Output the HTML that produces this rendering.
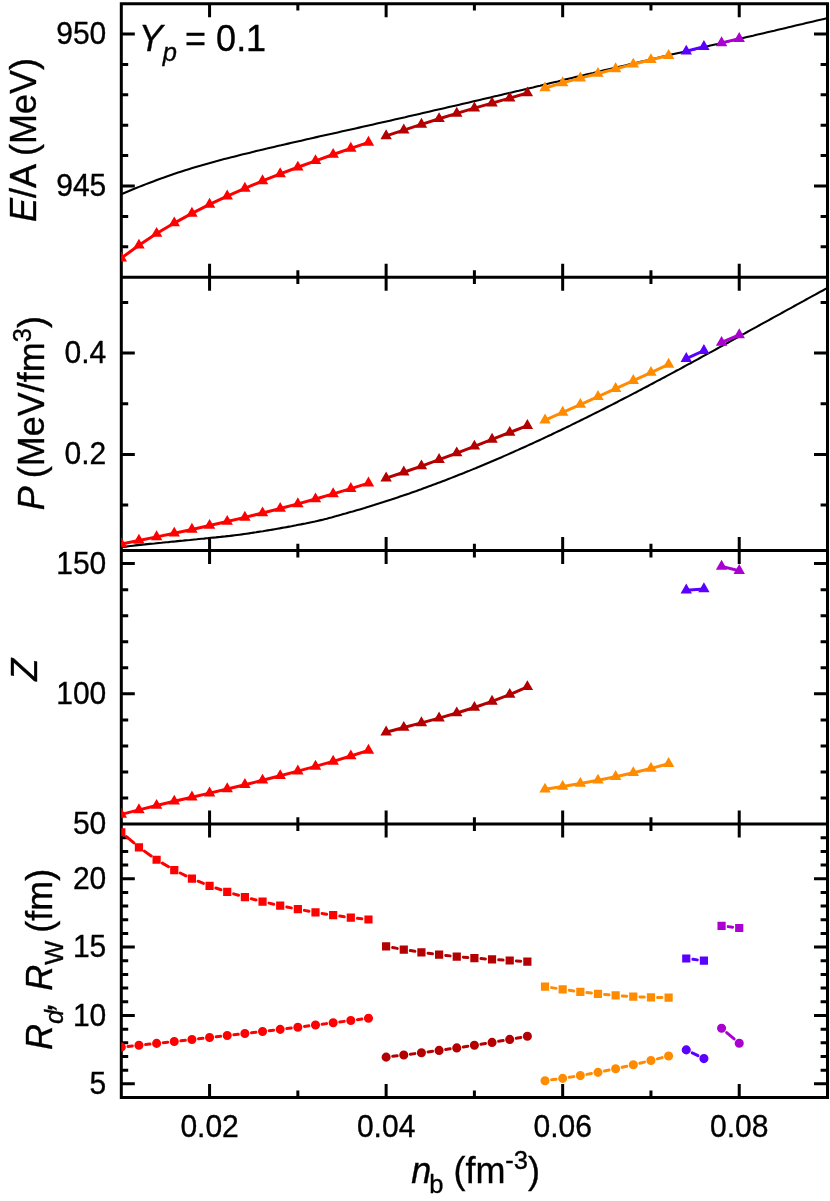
<!DOCTYPE html>
<html><head><meta charset="utf-8"><title>chart</title><style>html,body{margin:0;padding:0;background:#fff;overflow:hidden}</style></head><body>
<svg width="830" height="1201" viewBox="0 0 830 1201" style="display:block;will-change:transform;font-family:'Liberation Sans',sans-serif">
<rect width="830" height="1201" fill="#fff"/>
<defs><clipPath id="cp"><rect x="121.3" y="3.7" width="706.2" height="1093.8"/></clipPath>
<clipPath id="c0"><rect x="121.3" y="3.70" width="706.2" height="273.45"/></clipPath>
<clipPath id="c1"><rect x="121.3" y="277.15" width="706.2" height="273.45"/></clipPath>
<clipPath id="c2"><rect x="121.3" y="550.60" width="706.2" height="273.45"/></clipPath>
<clipPath id="c3"><rect x="121.3" y="824.05" width="706.2" height="273.45"/></clipPath>
</defs>
<path d="M209.57,3.70v13.5M209.57,277.15v-13.5M297.85,3.70v6.9M297.85,277.15v-6.9M386.13,3.70v13.5M386.13,277.15v-13.5M474.40,3.70v6.9M474.40,277.15v-6.9M562.67,3.70v13.5M562.67,277.15v-13.5M650.95,3.70v6.9M650.95,277.15v-6.9M739.23,3.70v13.5M739.23,277.15v-13.5M209.57,277.15v13.5M209.57,550.60v-13.5M297.85,277.15v6.9M297.85,550.60v-6.9M386.13,277.15v13.5M386.13,550.60v-13.5M474.40,277.15v6.9M474.40,550.60v-6.9M562.67,277.15v13.5M562.67,550.60v-13.5M650.95,277.15v6.9M650.95,550.60v-6.9M739.23,277.15v13.5M739.23,550.60v-13.5M209.57,550.60v13.5M209.57,824.05v-13.5M297.85,550.60v6.9M297.85,824.05v-6.9M386.13,550.60v13.5M386.13,824.05v-13.5M474.40,550.60v6.9M474.40,824.05v-6.9M562.67,550.60v13.5M562.67,824.05v-13.5M650.95,550.60v6.9M650.95,824.05v-6.9M739.23,550.60v13.5M739.23,824.05v-13.5M209.57,824.05v13.5M209.57,1097.50v-13.5M297.85,824.05v6.9M297.85,1097.50v-6.9M386.13,824.05v13.5M386.13,1097.50v-13.5M474.40,824.05v6.9M474.40,1097.50v-6.9M562.67,824.05v13.5M562.67,1097.50v-13.5M650.95,824.05v6.9M650.95,1097.50v-6.9M739.23,824.05v13.5M739.23,1097.50v-13.5M121.3,246.77h6.9M827.5,246.77h-6.9M121.3,216.38h6.9M827.5,216.38h-6.9M121.3,186.00h13.5M827.5,186.00h-13.5M121.3,155.62h6.9M827.5,155.62h-6.9M121.3,125.23h6.9M827.5,125.23h-6.9M121.3,94.85h6.9M827.5,94.85h-6.9M121.3,64.47h6.9M827.5,64.47h-6.9M121.3,34.08h13.5M827.5,34.08h-13.5M121.3,505.02h6.9M827.5,505.02h-6.9M121.3,454.39h13.5M827.5,454.39h-13.5M121.3,403.75h6.9M827.5,403.75h-6.9M121.3,353.11h13.5M827.5,353.11h-13.5M121.3,302.47h6.9M827.5,302.47h-6.9M121.3,798.01h6.9M827.5,798.01h-6.9M121.3,771.96h6.9M827.5,771.96h-6.9M121.3,745.92h6.9M827.5,745.92h-6.9M121.3,719.88h6.9M827.5,719.88h-6.9M121.3,693.84h13.5M827.5,693.84h-13.5M121.3,667.79h6.9M827.5,667.79h-6.9M121.3,641.75h6.9M827.5,641.75h-6.9M121.3,615.71h6.9M827.5,615.71h-6.9M121.3,589.66h6.9M827.5,589.66h-6.9M121.3,563.62h13.5M827.5,563.62h-13.5M121.3,1083.83h13.5M827.5,1083.83h-13.5M121.3,1070.15h6.9M827.5,1070.15h-6.9M121.3,1056.48h6.9M827.5,1056.48h-6.9M121.3,1042.81h6.9M827.5,1042.81h-6.9M121.3,1029.14h6.9M827.5,1029.14h-6.9M121.3,1015.46h13.5M827.5,1015.46h-13.5M121.3,1001.79h6.9M827.5,1001.79h-6.9M121.3,988.12h6.9M827.5,988.12h-6.9M121.3,974.45h6.9M827.5,974.45h-6.9M121.3,960.77h6.9M827.5,960.77h-6.9M121.3,947.10h13.5M827.5,947.10h-13.5M121.3,933.43h6.9M827.5,933.43h-6.9M121.3,919.76h6.9M827.5,919.76h-6.9M121.3,906.08h6.9M827.5,906.08h-6.9M121.3,892.41h6.9M827.5,892.41h-6.9M121.3,878.74h13.5M827.5,878.74h-13.5M121.3,865.07h6.9M827.5,865.07h-6.9M121.3,851.39h6.9M827.5,851.39h-6.9M121.3,837.72h6.9M827.5,837.72h-6.9" stroke="#000" stroke-width="3.0" fill="none"/>
<path d="M121.3,3.7H827.5V1097.5H121.3ZM121.3,277.15H827.5M121.3,550.60H827.5M121.3,824.05H827.5" stroke="#000" stroke-width="3.0" fill="none" stroke-linejoin="miter"/>
<path d="M121.3,194.2 L124.8,192.7 L128.4,191.2 L131.9,189.8 L135.5,188.3 L139.0,186.9 L142.6,185.5 L146.1,184.1 L149.7,182.7 L153.2,181.4 L156.8,180.0 L160.3,178.7 L163.9,177.5 L167.4,176.2 L171.0,175.0 L174.5,173.8 L178.1,172.6 L181.6,171.5 L185.2,170.3 L188.7,169.2 L192.3,168.1 L195.8,167.0 L199.4,165.9 L202.9,164.9 L206.5,163.9 L210.0,162.9 L213.6,161.9 L217.1,160.9 L220.7,160.0 L224.2,159.1 L227.8,158.2 L231.3,157.3 L234.9,156.4 L238.4,155.5 L242.0,154.6 L245.5,153.8 L249.1,152.9 L252.6,152.0 L256.2,151.1 L259.7,150.3 L263.2,149.4 L266.8,148.6 L270.3,147.7 L273.9,146.9 L277.4,146.1 L281.0,145.3 L284.5,144.4 L288.1,143.6 L291.6,142.8 L295.2,142.0 L298.7,141.2 L302.3,140.4 L305.8,139.6 L309.4,138.8 L312.9,137.9 L316.5,137.1 L320.0,136.3 L323.6,135.5 L327.1,134.8 L330.7,134.0 L334.2,133.2 L337.8,132.4 L341.3,131.6 L344.9,130.8 L348.4,130.0 L352.0,129.2 L355.5,128.4 L359.1,127.6 L362.6,126.8 L366.2,126.0 L369.7,125.2 L373.3,124.4 L376.8,123.6 L380.4,122.8 L383.9,122.0 L387.5,121.2 L391.0,120.4 L394.6,119.6 L398.1,118.8 L401.7,118.0 L405.2,117.2 L408.7,116.3 L412.3,115.5 L415.8,114.7 L419.4,113.9 L422.9,113.1 L426.5,112.2 L430.0,111.4 L433.6,110.6 L437.1,109.8 L440.7,109.0 L444.2,108.2 L447.8,107.3 L451.3,106.5 L454.9,105.7 L458.4,104.9 L462.0,104.0 L465.5,103.2 L469.1,102.4 L472.6,101.6 L476.2,100.7 L479.7,99.9 L483.3,99.1 L486.8,98.3 L490.4,97.4 L493.9,96.6 L497.5,95.8 L501.0,94.9 L504.6,94.1 L508.1,93.3 L511.7,92.4 L515.2,91.6 L518.8,90.8 L522.3,89.9 L525.9,89.1 L529.4,88.2 L533.0,87.4 L536.5,86.5 L540.1,85.7 L543.6,84.8 L547.1,84.0 L550.7,83.1 L554.2,82.2 L557.8,81.4 L561.3,80.5 L564.9,79.6 L568.4,78.8 L572.0,77.9 L575.5,77.1 L579.1,76.2 L582.6,75.4 L586.2,74.5 L589.7,73.7 L593.3,72.9 L596.8,72.0 L600.4,71.2 L603.9,70.3 L607.5,69.5 L611.0,68.7 L614.6,67.8 L618.1,67.0 L621.7,66.2 L625.2,65.4 L628.8,64.5 L632.3,63.7 L635.9,62.9 L639.4,62.0 L643.0,61.2 L646.5,60.4 L650.1,59.6 L653.6,58.7 L657.2,57.9 L660.7,57.1 L664.3,56.3 L667.8,55.5 L671.4,54.6 L674.9,53.8 L678.5,53.0 L682.0,52.2 L685.6,51.4 L689.1,50.5 L692.6,49.7 L696.2,48.9 L699.7,48.1 L703.3,47.2 L706.8,46.4 L710.4,45.6 L713.9,44.8 L717.5,44.0 L721.0,43.1 L724.6,42.3 L728.1,41.5 L731.7,40.7 L735.2,39.8 L738.8,39.0 L742.3,38.2 L745.9,37.3 L749.4,36.5 L753.0,35.7 L756.5,34.8 L760.1,34.0 L763.6,33.2 L767.2,32.3 L770.7,31.5 L774.3,30.7 L777.8,29.8 L781.4,29.0 L784.9,28.2 L788.5,27.3 L792.0,26.5 L795.6,25.6 L799.1,24.8 L802.7,24.0 L806.2,23.1 L809.8,22.3 L813.3,21.5 L816.9,20.6 L820.4,19.8 L824.0,18.9 L827.5,18.1" stroke="#000" stroke-width="2.1" fill="none" clip-path="url(#c0)"/>
<path d="M121.3,547.3 L123.7,547.0 L126.0,546.6 L128.4,546.3 L130.7,546.0 L133.1,545.7 L135.5,545.4 L137.8,545.1 L140.2,544.9 L142.6,544.6 L144.9,544.4 L147.3,544.1 L149.6,543.9 L152.0,543.7 L154.4,543.5 L156.7,543.2 L159.1,543.0 L161.5,542.8 L163.8,542.5 L166.2,542.3 L168.5,542.1 L170.9,541.8 L173.3,541.6 L175.6,541.4 L178.0,541.1 L180.3,540.9 L182.7,540.7 L185.1,540.4 L187.4,540.2 L189.8,540.0 L192.2,539.7 L194.5,539.5 L196.9,539.3 L199.2,539.0 L201.6,538.8 L204.0,538.6 L206.3,538.3 L208.7,538.1 L211.1,537.8 L213.4,537.6 L215.8,537.4 L218.1,537.1 L220.5,536.9 L222.9,536.6 L225.2,536.4 L227.6,536.1 L229.9,535.9 L232.3,535.6 L234.7,535.3 L237.0,535.0 L239.4,534.7 L241.8,534.4 L244.1,534.0 L246.5,533.7 L248.8,533.4 L251.2,533.0 L253.6,532.6 L255.9,532.3 L258.3,531.9 L260.7,531.5 L263.0,531.2 L265.4,530.8 L267.7,530.4 L270.1,530.0 L272.5,529.6 L274.8,529.2 L277.2,528.8 L279.5,528.4 L281.9,527.9 L284.3,527.5 L286.6,527.1 L289.0,526.6 L291.4,526.2 L293.7,525.7 L296.1,525.3 L298.4,524.8 L300.8,524.4 L303.2,523.9 L305.5,523.5 L307.9,523.0 L310.2,522.5 L312.6,522.0 L315.0,521.5 L317.3,520.9 L319.7,520.4 L322.1,519.9 L324.4,519.3 L326.8,518.7 L329.1,518.0 L331.5,517.4 L333.9,516.7 L336.2,516.1 L338.6,515.4 L341.0,514.8 L343.3,514.1 L345.7,513.5 L348.0,512.8 L350.4,512.1 L352.8,511.5 L355.1,510.8 L357.5,510.1 L359.8,509.4 L362.2,508.7 L364.6,508.0 L366.9,507.2 L369.3,506.5 L371.7,505.8 L374.0,505.1 L376.4,504.3 L378.7,503.6 L381.1,502.8 L383.5,502.1 L385.8,501.3 L388.2,500.5 L390.6,499.8 L392.9,499.0 L395.3,498.2 L397.6,497.4 L400.0,496.6 L402.4,495.8 L404.7,495.0 L407.1,494.2 L409.4,493.4 L411.8,492.5 L414.2,491.7 L416.5,490.9 L418.9,490.0 L421.3,489.2 L423.6,488.3 L426.0,487.4 L428.3,486.6 L430.7,485.7 L433.1,484.8 L435.4,484.0 L437.8,483.1 L440.2,482.2 L442.5,481.3 L444.9,480.4 L447.2,479.5 L449.6,478.6 L452.0,477.6 L454.3,476.7 L456.7,475.8 L459.0,474.8 L461.4,473.9 L463.8,473.0 L466.1,472.0 L468.5,471.1 L470.9,470.1 L473.2,469.1 L475.6,468.2 L477.9,467.2 L480.3,466.2 L482.7,465.2 L485.0,464.2 L487.4,463.2 L489.8,462.2 L492.1,461.2 L494.5,460.2 L496.8,459.2 L499.2,458.2 L501.6,457.2 L503.9,456.1 L506.3,455.1 L508.6,454.1 L511.0,453.0 L513.4,452.0 L515.7,450.9 L518.1,449.9 L520.5,448.8 L522.8,447.8 L525.2,446.7 L527.5,445.6 L529.9,444.5 L532.3,443.5 L534.6,442.4 L537.0,441.3 L539.4,440.2 L541.7,439.1 L544.1,438.0 L546.4,436.9 L548.8,435.8 L551.2,434.7 L553.5,433.5 L555.9,432.4 L558.2,431.3 L560.6,430.2 L563.0,429.0 L565.3,427.9 L567.7,426.7 L570.1,425.6 L572.4,424.4 L574.8,423.3 L577.1,422.1 L579.5,421.0 L581.9,419.8 L584.2,418.6 L586.6,417.5 L589.0,416.3 L591.3,415.1 L593.7,413.9 L596.0,412.8 L598.4,411.6 L600.8,410.4 L603.1,409.2 L605.5,408.0 L607.8,406.8 L610.2,405.6 L612.6,404.4 L614.9,403.2 L617.3,402.0 L619.7,400.7 L622.0,399.5 L624.4,398.3 L626.7,397.1 L629.1,395.9 L631.5,394.6 L633.8,393.4 L636.2,392.2 L638.6,390.9 L640.9,389.7 L643.3,388.4 L645.6,387.2 L648.0,386.0 L650.4,384.7 L652.7,383.5 L655.1,382.2 L657.4,380.9 L659.8,379.7 L662.2,378.4 L664.5,377.2 L666.9,375.9 L669.3,374.6 L671.6,373.4 L674.0,372.1 L676.3,370.8 L678.7,369.6 L681.1,368.3 L683.4,367.0 L685.8,365.7 L688.1,364.4 L690.5,363.2 L692.9,361.9 L695.2,360.6 L697.6,359.3 L700.0,358.0 L702.3,356.7 L704.7,355.4 L707.0,354.1 L709.4,352.9 L711.8,351.6 L714.1,350.3 L716.5,349.0 L718.9,347.7 L721.2,346.4 L723.6,345.1 L725.9,343.8 L728.3,342.5 L730.7,341.2 L733.0,339.9 L735.4,338.6 L737.7,337.3 L740.1,336.0 L742.5,334.7 L744.8,333.4 L747.2,332.0 L749.6,330.7 L751.9,329.4 L754.3,328.1 L756.6,326.8 L759.0,325.5 L761.4,324.2 L763.7,322.9 L766.1,321.6 L768.5,320.3 L770.8,319.0 L773.2,317.7 L775.5,316.4 L777.9,315.1 L780.3,313.8 L782.6,312.5 L785.0,311.2 L787.3,309.9 L789.7,308.6 L792.1,307.3 L794.4,306.0 L796.8,304.7 L799.2,303.4 L801.5,302.1 L803.9,300.8 L806.2,299.5 L808.6,298.2 L811.0,296.9 L813.3,295.6 L815.7,294.3 L818.1,293.0 L820.4,291.7 L822.8,290.5 L825.1,289.2 L827.5,287.9" stroke="#000" stroke-width="2.1" fill="none" clip-path="url(#c1)"/>
<g clip-path="url(#c0)"><path d="M121.30,258.15 L138.95,245.32 L156.61,233.55 L174.26,223.07 L191.92,213.41 L209.57,204.46 L227.23,196.13 L244.88,188.33 L262.54,180.96 L280.19,173.97 L297.85,167.26 L315.50,160.80 L333.16,154.52 L350.81,148.38 L368.47,142.35" stroke="#ff0000" stroke-width="3.0" fill="none" stroke-linejoin="round"/><path d="M121.30,251.55L127.02,261.45L115.58,261.45ZM138.95,238.72L144.67,248.62L133.24,248.62ZM156.61,226.95L162.33,236.85L150.89,236.85ZM174.26,216.47L179.98,226.37L168.55,226.37ZM191.92,206.81L197.64,216.71L186.20,216.71ZM209.57,197.86L215.29,207.76L203.86,207.76ZM227.23,189.53L232.95,199.43L221.51,199.43ZM244.88,181.73L250.60,191.63L239.17,191.63ZM262.54,174.36L268.26,184.26L256.82,184.26ZM280.19,167.37L285.91,177.27L274.48,177.27ZM297.85,160.66L303.57,170.56L292.13,170.56ZM315.50,154.20L321.22,164.10L309.79,164.10ZM333.16,147.92L338.88,157.82L327.44,157.82ZM350.81,141.78L356.53,151.68L345.10,151.68ZM368.47,135.75L374.19,145.65L362.75,145.65Z" fill="#ff0000"/></g>
<g clip-path="url(#c0)"><path d="M386.13,135.90 L403.78,130.08 L421.44,124.34 L439.09,118.75 L456.75,113.36 L474.40,108.16 L492.06,103.11 L509.71,98.10 L527.37,93.00" stroke="#b40000" stroke-width="3.0" fill="none" stroke-linejoin="round"/><path d="M386.13,129.30L391.84,139.20L380.41,139.20ZM403.78,123.48L409.50,133.38L398.06,133.38ZM421.44,117.74L427.15,127.64L415.72,127.64ZM439.09,112.15L444.81,122.05L433.37,122.05ZM456.75,106.76L462.46,116.66L451.03,116.66ZM474.40,101.56L480.12,111.46L468.68,111.46ZM492.06,96.51L497.77,106.41L486.34,106.41ZM509.71,91.50L515.43,101.40L503.99,101.40ZM527.37,86.40L533.08,96.30L521.65,96.30Z" fill="#b40000"/></g>
<g clip-path="url(#c0)"><path d="M545.02,88.00 L562.67,82.90 L580.33,78.14 L597.99,73.50 L615.64,68.89 L633.29,64.28 L650.95,59.79 L668.61,55.61" stroke="#ff8c00" stroke-width="3.0" fill="none" stroke-linejoin="round"/><path d="M545.02,81.40L550.74,91.30L539.30,91.30ZM562.67,76.30L568.39,86.20L556.96,86.20ZM580.33,71.54L586.05,81.44L574.61,81.44ZM597.99,66.90L603.70,76.80L592.27,76.80ZM615.64,62.29L621.36,72.19L609.92,72.19ZM633.29,57.68L639.01,67.58L627.58,67.58ZM650.95,53.19L656.67,63.09L645.23,63.09ZM668.61,49.01L674.32,58.91L662.89,58.91Z" fill="#ff8c00"/></g>
<g clip-path="url(#c0)"><path d="M686.26,51.30 L703.91,46.60" stroke="#5a00ff" stroke-width="3.0" fill="none" stroke-linejoin="round"/><path d="M686.26,44.70L691.98,54.60L680.54,54.60ZM703.91,40.00L709.63,49.90L698.20,49.90Z" fill="#5a00ff"/></g>
<g clip-path="url(#c0)"><path d="M721.57,42.90 L739.23,38.60" stroke="#aa00d2" stroke-width="3.0" fill="none" stroke-linejoin="round"/><path d="M721.57,36.30L727.29,46.20L715.85,46.20ZM739.23,32.00L744.94,41.90L733.51,41.90Z" fill="#aa00d2"/></g>
<g clip-path="url(#c1)"><path d="M121.30,543.97 L138.95,540.47 L156.61,536.90 L174.26,533.23 L191.92,529.45 L209.57,525.56 L227.23,521.53 L244.88,517.36 L262.54,513.04 L280.19,508.54 L297.85,503.87 L315.50,499.00 L333.16,493.93 L350.81,488.64 L368.47,483.11" stroke="#ff0000" stroke-width="3.0" fill="none" stroke-linejoin="round"/><path d="M121.30,537.37L127.02,547.27L115.58,547.27ZM138.95,533.87L144.67,543.77L133.24,543.77ZM156.61,530.30L162.33,540.20L150.89,540.20ZM174.26,526.63L179.98,536.53L168.55,536.53ZM191.92,522.85L197.64,532.75L186.20,532.75ZM209.57,518.96L215.29,528.86L203.86,528.86ZM227.23,514.93L232.95,524.83L221.51,524.83ZM244.88,510.76L250.60,520.66L239.17,520.66ZM262.54,506.44L268.26,516.34L256.82,516.34ZM280.19,501.94L285.91,511.84L274.48,511.84ZM297.85,497.27L303.57,507.17L292.13,507.17ZM315.50,492.40L321.22,502.30L309.79,502.30ZM333.16,487.33L338.88,497.23L327.44,497.23ZM350.81,482.04L356.53,491.94L345.10,491.94ZM368.47,476.51L374.19,486.41L362.75,486.41Z" fill="#ff0000"/></g>
<g clip-path="url(#c1)"><path d="M386.13,478.09 L403.78,472.21 L421.44,466.05 L439.09,459.65 L456.75,453.05 L474.40,446.30 L492.06,439.44 L509.71,432.52 L527.37,425.58" stroke="#b40000" stroke-width="3.0" fill="none" stroke-linejoin="round"/><path d="M386.13,471.49L391.84,481.39L380.41,481.39ZM403.78,465.61L409.50,475.51L398.06,475.51ZM421.44,459.45L427.15,469.35L415.72,469.35ZM439.09,453.05L444.81,462.95L433.37,462.95ZM456.75,446.45L462.46,456.35L451.03,456.35ZM474.40,439.70L480.12,449.60L468.68,449.60ZM492.06,432.84L497.77,442.74L486.34,442.74ZM509.71,425.92L515.43,435.82L503.99,435.82ZM527.37,418.98L533.08,428.88L521.65,428.88Z" fill="#b40000"/></g>
<g clip-path="url(#c1)"><path d="M545.02,420.16 L562.67,412.36 L580.33,404.52 L597.99,396.62 L615.64,388.65 L633.29,380.62 L650.95,372.52 L668.61,364.34" stroke="#ff8c00" stroke-width="3.0" fill="none" stroke-linejoin="round"/><path d="M545.02,413.56L550.74,423.46L539.30,423.46ZM562.67,405.76L568.39,415.66L556.96,415.66ZM580.33,397.92L586.05,407.82L574.61,407.82ZM597.99,390.02L603.70,399.92L592.27,399.92ZM615.64,382.05L621.36,391.95L609.92,391.95ZM633.29,374.02L639.01,383.92L627.58,383.92ZM650.95,365.92L656.67,375.82L645.23,375.82ZM668.61,357.74L674.32,367.64L662.89,367.64Z" fill="#ff8c00"/></g>
<g clip-path="url(#c1)"><path d="M686.26,358.60 L703.91,350.70" stroke="#5a00ff" stroke-width="3.0" fill="none" stroke-linejoin="round"/><path d="M686.26,352.00L691.98,361.90L680.54,361.90ZM703.91,344.10L709.63,354.00L698.20,354.00Z" fill="#5a00ff"/></g>
<g clip-path="url(#c1)"><path d="M721.57,342.50 L739.23,334.90" stroke="#aa00d2" stroke-width="3.0" fill="none" stroke-linejoin="round"/><path d="M721.57,335.90L727.29,345.80L715.85,345.80ZM739.23,328.30L744.94,338.20L733.51,338.20Z" fill="#aa00d2"/></g>
<g clip-path="url(#c2)"><path d="M121.30,814.39 L138.95,809.85 L156.61,805.48 L174.26,801.29 L191.92,797.18 L209.57,793.14 L227.23,788.94 L244.88,784.71 L262.54,780.32 L280.19,775.81 L297.85,771.13 L315.50,766.38 L333.16,761.37 L350.81,756.04 L368.47,750.34" stroke="#ff0000" stroke-width="3.0" fill="none" stroke-linejoin="round"/><path d="M121.30,807.79L127.02,817.69L115.58,817.69ZM138.95,803.25L144.67,813.15L133.24,813.15ZM156.61,798.88L162.33,808.78L150.89,808.78ZM174.26,794.69L179.98,804.59L168.55,804.59ZM191.92,790.58L197.64,800.48L186.20,800.48ZM209.57,786.54L215.29,796.44L203.86,796.44ZM227.23,782.34L232.95,792.24L221.51,792.24ZM244.88,778.11L250.60,788.01L239.17,788.01ZM262.54,773.72L268.26,783.62L256.82,783.62ZM280.19,769.21L285.91,779.11L274.48,779.11ZM297.85,764.53L303.57,774.43L292.13,774.43ZM315.50,759.78L321.22,769.68L309.79,769.68ZM333.16,754.77L338.88,764.67L327.44,764.67ZM350.81,749.44L356.53,759.34L345.10,759.34ZM368.47,743.74L374.19,753.64L362.75,753.64Z" fill="#ff0000"/></g>
<g clip-path="url(#c2)"><path d="M386.13,732.22 L403.78,727.54 L421.44,722.88 L439.09,718.09 L456.75,713.02 L474.40,707.51 L492.06,701.40 L509.71,694.55 L527.37,686.79" stroke="#b40000" stroke-width="3.0" fill="none" stroke-linejoin="round"/><path d="M386.13,725.62L391.84,735.52L380.41,735.52ZM403.78,720.94L409.50,730.84L398.06,730.84ZM421.44,716.28L427.15,726.18L415.72,726.18ZM439.09,711.49L444.81,721.39L433.37,721.39ZM456.75,706.42L462.46,716.32L451.03,716.32ZM474.40,700.91L480.12,710.81L468.68,710.81ZM492.06,694.80L497.77,704.70L486.34,704.70ZM509.71,687.95L515.43,697.85L503.99,697.85ZM527.37,680.19L533.08,690.09L521.65,690.09Z" fill="#b40000"/></g>
<g clip-path="url(#c2)"><path d="M545.02,789.28 L562.67,786.50 L580.33,783.51 L597.99,780.27 L615.64,776.72 L633.29,772.80 L650.95,768.47 L668.61,763.65" stroke="#ff8c00" stroke-width="3.0" fill="none" stroke-linejoin="round"/><path d="M545.02,782.68L550.74,792.58L539.30,792.58ZM562.67,779.90L568.39,789.80L556.96,789.80ZM580.33,776.91L586.05,786.81L574.61,786.81ZM597.99,773.67L603.70,783.57L592.27,783.57ZM615.64,770.12L621.36,780.02L609.92,780.02ZM633.29,766.20L639.01,776.10L627.58,776.10ZM650.95,761.87L656.67,771.77L645.23,771.77ZM668.61,757.05L674.32,766.95L662.89,766.95Z" fill="#ff8c00"/></g>
<g clip-path="url(#c2)"><path d="M686.26,590.20 L703.91,588.90" stroke="#5a00ff" stroke-width="3.0" fill="none" stroke-linejoin="round"/><path d="M686.26,583.60L691.98,593.50L680.54,593.50ZM703.91,582.30L709.63,592.20L698.20,592.20Z" fill="#5a00ff"/></g>
<g clip-path="url(#c2)"><path d="M721.57,566.40 L739.23,570.70" stroke="#aa00d2" stroke-width="3.0" fill="none" stroke-linejoin="round"/><path d="M721.57,559.80L727.29,569.70L715.85,569.70ZM739.23,564.10L744.94,574.00L733.51,574.00Z" fill="#aa00d2"/></g>
<g clip-path="url(#c3)"><path d="M126.36,836.55L133.90,842.98M144.39,851.13L151.18,855.94M162.35,863.14L168.53,866.75M180.25,873.02L185.94,875.79M198.08,881.21L203.41,883.38M215.86,888.04L220.94,889.78M233.61,893.82L238.51,895.26M251.33,898.78L256.10,900.00M269.03,903.12L273.71,904.17M286.71,906.96L291.33,907.89M304.39,910.39L308.96,911.21M322.07,913.44L326.59,914.16M339.75,916.11L344.23,916.72M357.43,918.32L361.86,918.80" stroke="#ff0000" stroke-width="3.0" fill="none" stroke-linejoin="round" stroke-linecap="round"/><path d="M117.20,828.13h8.2v8.2h-8.2ZM134.85,843.19h8.2v8.2h-8.2ZM152.51,855.67h8.2v8.2h-8.2ZM170.16,866.01h8.2v8.2h-8.2ZM187.82,874.60h8.2v8.2h-8.2ZM205.47,881.78h8.2v8.2h-8.2ZM223.13,887.84h8.2v8.2h-8.2ZM240.78,893.03h8.2v8.2h-8.2ZM258.44,897.55h8.2v8.2h-8.2ZM276.09,901.54h8.2v8.2h-8.2ZM293.75,905.10h8.2v8.2h-8.2ZM311.40,908.29h8.2v8.2h-8.2ZM329.06,911.11h8.2v8.2h-8.2ZM346.71,913.52h8.2v8.2h-8.2ZM364.37,915.41h8.2v8.2h-8.2Z" fill="#ff0000"/></g>
<g clip-path="url(#c3)"><path d="M392.67,947.56L397.23,948.38M410.35,950.59L414.87,951.30M428.03,953.21L432.50,953.80M445.70,955.39L450.13,955.88M463.37,957.17L467.78,957.56M481.03,958.61L485.42,958.92M498.69,959.81L503.07,960.08M516.35,960.92L520.73,961.20" stroke="#b40000" stroke-width="3.0" fill="none" stroke-linejoin="round" stroke-linecap="round"/><path d="M382.03,942.28h8.2v8.2h-8.2ZM399.68,945.46h8.2v8.2h-8.2ZM417.33,948.23h8.2v8.2h-8.2ZM434.99,950.58h8.2v8.2h-8.2ZM452.65,952.50h8.2v8.2h-8.2ZM470.30,954.04h8.2v8.2h-8.2ZM487.95,955.29h8.2v8.2h-8.2ZM505.61,956.40h8.2v8.2h-8.2ZM523.26,957.53h8.2v8.2h-8.2Z" fill="#b40000"/></g>
<g clip-path="url(#c3)"><path d="M551.59,987.63L556.11,988.36M569.26,990.32L573.74,990.94M586.94,992.59L591.38,993.10M604.61,994.46L609.02,994.86M622.27,995.91L626.66,996.21M639.94,996.93L644.31,997.12M657.60,997.47L661.96,997.53" stroke="#ff8c00" stroke-width="3.0" fill="none" stroke-linejoin="round" stroke-linecap="round"/><path d="M540.92,982.47h8.2v8.2h-8.2ZM558.57,985.32h8.2v8.2h-8.2ZM576.23,987.74h8.2v8.2h-8.2ZM593.88,989.75h8.2v8.2h-8.2ZM611.54,991.36h8.2v8.2h-8.2ZM629.19,992.56h8.2v8.2h-8.2ZM646.85,993.29h8.2v8.2h-8.2ZM664.50,993.51h8.2v8.2h-8.2Z" fill="#ff8c00"/></g>
<g clip-path="url(#c3)"><path d="M692.86,959.32L697.32,959.88" stroke="#5a00ff" stroke-width="3.0" fill="none" stroke-linejoin="round" stroke-linecap="round"/><path d="M682.16,954.40h8.2v8.2h-8.2ZM699.81,956.60h8.2v8.2h-8.2Z" fill="#5a00ff"/></g>
<g clip-path="url(#c3)"><path d="M728.17,926.62L732.63,927.18" stroke="#aa00d2" stroke-width="3.0" fill="none" stroke-linejoin="round" stroke-linecap="round"/><path d="M717.47,921.70h8.2v8.2h-8.2ZM735.12,923.90h8.2v8.2h-8.2Z" fill="#aa00d2"/></g>
<g clip-path="url(#c3)"><path d="M127.91,1046.45L132.34,1045.98M145.57,1044.57L150.00,1044.10M163.22,1042.68L167.65,1042.20M180.88,1040.75L185.31,1040.27M198.53,1038.80L202.97,1038.31M216.18,1036.82L220.62,1036.32M233.84,1034.81L238.28,1034.30M251.49,1032.76L255.94,1032.24M269.14,1030.68L273.59,1030.15M286.80,1028.56L291.25,1028.02M304.45,1026.40L308.91,1025.85M322.10,1024.19L326.56,1023.63M339.76,1021.95L344.22,1021.37M357.41,1019.66L361.88,1019.07" stroke="#ff0000" stroke-width="3.0" fill="none" stroke-linejoin="round" stroke-linecap="round"/><path d="M116.75,1047.14a4.55,4.55 0 1,0 9.1,0a4.55,4.55 0 1,0 -9.1,0ZM134.40,1045.28a4.55,4.55 0 1,0 9.1,0a4.55,4.55 0 1,0 -9.1,0ZM152.06,1043.39a4.55,4.55 0 1,0 9.1,0a4.55,4.55 0 1,0 -9.1,0ZM169.71,1041.48a4.55,4.55 0 1,0 9.1,0a4.55,4.55 0 1,0 -9.1,0ZM187.37,1039.54a4.55,4.55 0 1,0 9.1,0a4.55,4.55 0 1,0 -9.1,0ZM205.02,1037.57a4.55,4.55 0 1,0 9.1,0a4.55,4.55 0 1,0 -9.1,0ZM222.68,1035.57a4.55,4.55 0 1,0 9.1,0a4.55,4.55 0 1,0 -9.1,0ZM240.33,1033.53a4.55,4.55 0 1,0 9.1,0a4.55,4.55 0 1,0 -9.1,0ZM257.99,1031.47a4.55,4.55 0 1,0 9.1,0a4.55,4.55 0 1,0 -9.1,0ZM275.64,1029.36a4.55,4.55 0 1,0 9.1,0a4.55,4.55 0 1,0 -9.1,0ZM293.30,1027.21a4.55,4.55 0 1,0 9.1,0a4.55,4.55 0 1,0 -9.1,0ZM310.95,1025.03a4.55,4.55 0 1,0 9.1,0a4.55,4.55 0 1,0 -9.1,0ZM328.61,1022.80a4.55,4.55 0 1,0 9.1,0a4.55,4.55 0 1,0 -9.1,0ZM346.26,1020.52a4.55,4.55 0 1,0 9.1,0a4.55,4.55 0 1,0 -9.1,0ZM363.92,1018.20a4.55,4.55 0 1,0 9.1,0a4.55,4.55 0 1,0 -9.1,0Z" fill="#ff0000"/></g>
<g clip-path="url(#c3)"><path d="M392.73,1056.35L397.18,1055.82M410.38,1054.20L414.84,1053.63M428.03,1051.91L432.50,1051.31M445.67,1049.49L450.16,1048.85M463.32,1046.91L467.82,1046.23M480.97,1044.18L485.49,1043.46M498.61,1041.30L503.15,1040.52M516.26,1038.24L520.82,1037.42" stroke="#b40000" stroke-width="3.0" fill="none" stroke-linejoin="round" stroke-linecap="round"/><path d="M381.58,1057.14a4.55,4.55 0 1,0 9.1,0a4.55,4.55 0 1,0 -9.1,0ZM399.23,1055.03a4.55,4.55 0 1,0 9.1,0a4.55,4.55 0 1,0 -9.1,0ZM416.88,1052.80a4.55,4.55 0 1,0 9.1,0a4.55,4.55 0 1,0 -9.1,0ZM434.54,1050.42a4.55,4.55 0 1,0 9.1,0a4.55,4.55 0 1,0 -9.1,0ZM452.20,1047.91a4.55,4.55 0 1,0 9.1,0a4.55,4.55 0 1,0 -9.1,0ZM469.85,1045.24a4.55,4.55 0 1,0 9.1,0a4.55,4.55 0 1,0 -9.1,0ZM487.50,1042.41a4.55,4.55 0 1,0 9.1,0a4.55,4.55 0 1,0 -9.1,0ZM505.16,1039.41a4.55,4.55 0 1,0 9.1,0a4.55,4.55 0 1,0 -9.1,0ZM522.82,1036.24a4.55,4.55 0 1,0 9.1,0a4.55,4.55 0 1,0 -9.1,0Z" fill="#b40000"/></g>
<g clip-path="url(#c3)"><path d="M551.61,1079.83L556.08,1079.24M569.24,1077.33L573.76,1076.62M586.87,1074.39L591.44,1073.55M604.50,1071.03L609.12,1070.09M622.13,1067.31L626.81,1066.26M639.76,1063.24L644.49,1062.10M657.39,1058.88L662.17,1057.64" stroke="#ff8c00" stroke-width="3.0" fill="none" stroke-linejoin="round" stroke-linecap="round"/><path d="M540.47,1080.70a4.55,4.55 0 1,0 9.1,0a4.55,4.55 0 1,0 -9.1,0ZM558.12,1078.37a4.55,4.55 0 1,0 9.1,0a4.55,4.55 0 1,0 -9.1,0ZM575.78,1075.58a4.55,4.55 0 1,0 9.1,0a4.55,4.55 0 1,0 -9.1,0ZM593.44,1072.36a4.55,4.55 0 1,0 9.1,0a4.55,4.55 0 1,0 -9.1,0ZM611.09,1068.76a4.55,4.55 0 1,0 9.1,0a4.55,4.55 0 1,0 -9.1,0ZM628.75,1064.81a4.55,4.55 0 1,0 9.1,0a4.55,4.55 0 1,0 -9.1,0ZM646.40,1060.54a4.55,4.55 0 1,0 9.1,0a4.55,4.55 0 1,0 -9.1,0ZM664.06,1055.98a4.55,4.55 0 1,0 9.1,0a4.55,4.55 0 1,0 -9.1,0Z" fill="#ff8c00"/></g>
<g clip-path="url(#c3)"><path d="M692.23,1052.84L697.95,1055.66" stroke="#5a00ff" stroke-width="3.0" fill="none" stroke-linejoin="round" stroke-linecap="round"/><path d="M681.71,1049.90a4.55,4.55 0 1,0 9.1,0a4.55,4.55 0 1,0 -9.1,0ZM699.37,1058.60a4.55,4.55 0 1,0 9.1,0a4.55,4.55 0 1,0 -9.1,0Z" fill="#5a00ff"/></g>
<g clip-path="url(#c3)"><path d="M726.65,1032.59L734.14,1038.91" stroke="#aa00d2" stroke-width="3.0" fill="none" stroke-linejoin="round" stroke-linecap="round"/><path d="M717.02,1028.30a4.55,4.55 0 1,0 9.1,0a4.55,4.55 0 1,0 -9.1,0ZM734.68,1043.20a4.55,4.55 0 1,0 9.1,0a4.55,4.55 0 1,0 -9.1,0Z" fill="#aa00d2"/></g>
<text transform="translate(106.30,44.18) scale(1,1.06)" font-size="30" text-anchor="end" stroke="#000" stroke-width="0.35">950</text>
<text transform="translate(106.30,196.10) scale(1,1.06)" font-size="30" text-anchor="end" stroke="#000" stroke-width="0.35">945</text>
<text transform="translate(106.30,363.21) scale(1,1.06)" font-size="30" text-anchor="end" stroke="#000" stroke-width="0.35">0.4</text>
<text transform="translate(106.30,464.49) scale(1,1.06)" font-size="30" text-anchor="end" stroke="#000" stroke-width="0.35">0.2</text>
<text transform="translate(106.30,573.72) scale(1,1.06)" font-size="30" text-anchor="end" stroke="#000" stroke-width="0.35">150</text>
<text transform="translate(106.30,703.94) scale(1,1.06)" font-size="30" text-anchor="end" stroke="#000" stroke-width="0.35">100</text>
<text transform="translate(106.30,834.15) scale(1,1.06)" font-size="30" text-anchor="end" stroke="#000" stroke-width="0.35">50</text>
<text transform="translate(106.30,888.84) scale(1,1.06)" font-size="30" text-anchor="end" stroke="#000" stroke-width="0.35">20</text>
<text transform="translate(106.30,957.20) scale(1,1.06)" font-size="30" text-anchor="end" stroke="#000" stroke-width="0.35">15</text>
<text transform="translate(106.30,1025.56) scale(1,1.06)" font-size="30" text-anchor="end" stroke="#000" stroke-width="0.35">10</text>
<text transform="translate(106.30,1093.93) scale(1,1.06)" font-size="30" text-anchor="end" stroke="#000" stroke-width="0.35">5</text>
<text transform="translate(209.57,1136.60) scale(1,1.06)" font-size="30" text-anchor="middle" stroke="#000" stroke-width="0.35">0.02</text>
<text transform="translate(386.13,1136.60) scale(1,1.06)" font-size="30" text-anchor="middle" stroke="#000" stroke-width="0.35">0.04</text>
<text transform="translate(562.67,1136.60) scale(1,1.06)" font-size="30" text-anchor="middle" stroke="#000" stroke-width="0.35">0.06</text>
<text transform="translate(739.23,1136.60) scale(1,1.06)" font-size="30" text-anchor="middle" stroke="#000" stroke-width="0.35">0.08</text>
<text transform="translate(36.40,140.00) rotate(-90) scale(1,1.04)" font-size="36" text-anchor="middle" stroke="#000" stroke-width="0.35"><tspan font-style="italic">E</tspan>/A (MeV)</text>
<text transform="translate(44.40,413.20) rotate(-90) scale(1,1.04)" font-size="36" text-anchor="middle" stroke="#000" stroke-width="0.35"><tspan font-style="italic">P</tspan><tspan dx="-2"> (MeV/fm</tspan><tspan font-size="25.5" dy="-13.08">3</tspan><tspan dy="13.08">)</tspan></text>
<text transform="translate(36.70,669.70) rotate(-90) scale(1,1.04)" font-size="36" text-anchor="middle" stroke="#000" stroke-width="0.35"><tspan font-style="italic">Z</tspan></text>
<text transform="translate(52.40,959.40) rotate(-90) scale(1,1.04)" font-size="36" text-anchor="middle" stroke="#000" stroke-width="0.35"><tspan font-style="italic">R</tspan><tspan font-size="25.5" dy="9.81" font-style="italic">d</tspan><tspan dy="-9.81" dx="-1.5" font-style="italic">,</tspan><tspan dx="0.6"> </tspan><tspan font-style="italic">R</tspan><tspan font-size="25.5" dy="9.81">W</tspan><tspan dy="-9.81" dx="-2"> (fm)</tspan></text>
<text transform="translate(475.60,1182.70) scale(1,1.04)" font-size="36" text-anchor="middle" stroke="#000" stroke-width="0.35"><tspan font-style="italic">n</tspan><tspan font-size="25.5" dy="9.81" dx="-2">b</tspan><tspan dy="-9.81"> (fm</tspan><tspan font-size="25.5" dy="-13.08">-3</tspan><tspan dy="13.08">)</tspan></text>
<text transform="translate(138.70,51.20) scale(1,1.04)" font-size="36" text-anchor="start" stroke="#000" stroke-width="0.35"><tspan font-style="italic">Y</tspan><tspan font-size="25.5" dy="9.81" font-style="italic">p</tspan><tspan dy="-9.81" dx="-1.8"> = 0.1</tspan></text>
</svg>
</body></html>
